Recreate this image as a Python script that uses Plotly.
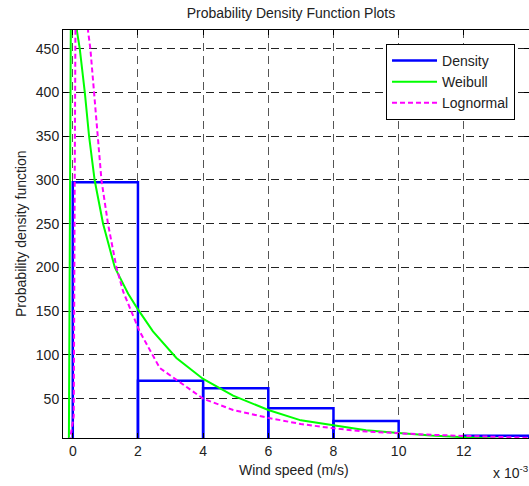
import plotly.graph_objects as go

# ---------------- data ----------------
bin_edges = [0.0, 0.002, 0.004, 0.006, 0.008, 0.010, 0.012, 0.014]
density = [297.5, 70.5, 62.0, 39.0, 24.4, 0.0, 7.5]

weibull_x = [-0.00012, -0.00005, 0.00008, 0.00013, 0.000215, 0.00037, 0.0005,
             0.00067, 0.00093, 0.00129, 0.0017, 0.002, 0.00246, 0.00318, 0.004,
             0.00492, 0.006, 0.007, 0.008, 0.009, 0.010, 0.011, 0.012, 0.013, 0.014]
weibull_y = [0, 560, 560, 470, 450, 400, 350,
             300, 250, 200, 170, 152, 127, 96.5, 72.5,
             53.4, 37, 25.2, 19.5, 13.8, 10.8, 7.8, 5.9, 4.4, 3]

lognormal_x = [-0.0001, 0.00003, 0.00006, 0.00008, 0.0001, 0.0004, 0.00047, 0.00054,
               0.00065, 0.00075, 0.00088, 0.00108, 0.00134, 0.00155, 0.00205, 0.00267,
               0.004, 0.00492, 0.006, 0.007, 0.008, 0.009, 0.010, 0.011, 0.012, 0.013, 0.014]
lognormal_y = [0, 30, 300, 470, 620, 620, 470, 450,
               400, 350, 300, 250, 200, 172, 127, 85,
               50, 37, 28, 21, 16, 12.4, 10.1, 8.6, 7.4, 6.3, 5.2]

x_ticks = [0, 0.002, 0.004, 0.006, 0.008, 0.010, 0.012]
x_tick_labels = ["0", "2", "4", "6", "8", "10", "12"]
y_ticks = [50, 100, 150, 200, 250, 300, 350, 400, 450]

# ---------------- build histogram outline ----------------
hx, hy = [], []
for i, h in enumerate(density):
    x0, x1 = bin_edges[i], bin_edges[i + 1]
    hx += [x0, x0, x1, x1, None]
    hy += [0, h, h, 0, None]

FONT = "Liberation Sans, Arial, Helvetica, sans-serif"

fig = go.Figure()
fig.add_trace(go.Scatter(x=hx, y=hy, mode="lines", name="Density",
                         line=dict(color="#0000FF", width=2.5)))
fig.add_trace(go.Scatter(x=weibull_x, y=weibull_y, mode="lines", name="Weibull",
                         line=dict(color="#00FF00", width=2)))
fig.add_trace(go.Scatter(x=lognormal_x, y=lognormal_y, mode="lines", name="Lognormal",
                         line=dict(color="#FF00FF", width=2, dash="5px,3px")))

axis_common = dict(
    showline=True, linecolor="black", linewidth=1, mirror="ticks",
    ticks="inside", ticklen=5, tickcolor="black", tickwidth=1,
    showgrid=True, gridwidth=1, griddash="8px,5px",
    zeroline=False, tickfont=dict(family=FONT, size=14, color="#222"),
)

fig.update_xaxes(range=[-0.0003, 0.014], tickvals=x_ticks, ticktext=x_tick_labels,
                 gridcolor="#555", **axis_common)
fig.update_yaxes(range=[5, 471.5], tickvals=y_ticks, gridcolor="#222", **axis_common)

fig.update_layout(
    width=529, height=486,
    margin=dict(l=63, r=0, t=30, b=48),
    paper_bgcolor="white", plot_bgcolor="white",
    font=dict(family=FONT, size=14, color="#222"),
    title=dict(text="Probability Density Function Plots", x=0.55, xref="container",
               xanchor="center", y=1 - 12.7 / 486, yref="container", yanchor="middle",
               font=dict(family=FONT, size=14, color="#222")),
    showlegend=True,
    legend=dict(x=0.97, y=0.966, xanchor="right", yanchor="top", itemwidth=45,
                bgcolor="white", bordercolor="black", borderwidth=1,
                font=dict(family=FONT, size=14, color="#222")),
    annotations=[
        dict(text="Wind speed (m/s)", xref="paper", yref="paper",
             x=(294 - 63) / 466, y=(438 - 470) / 408, xanchor="center", yanchor="middle",
             showarrow=False, font=dict(family=FONT, size=14, color="#222")),
        dict(text="Probability density function", xref="paper", yref="paper",
             x=(21 - 63) / 466, y=0.5, xanchor="center", yanchor="middle", textangle=-90,
             showarrow=False, font=dict(family=FONT, size=14, color="#222")),
        dict(text="x 10<sup>-3</sup>", xref="paper", yref="paper",
             x=(491 - 63) / 466, y=(438 - 472) / 408, xanchor="left", yanchor="middle",
             showarrow=False, font=dict(family=FONT, size=14, color="#222")),
    ],
)

fig.write_html("out.html")
